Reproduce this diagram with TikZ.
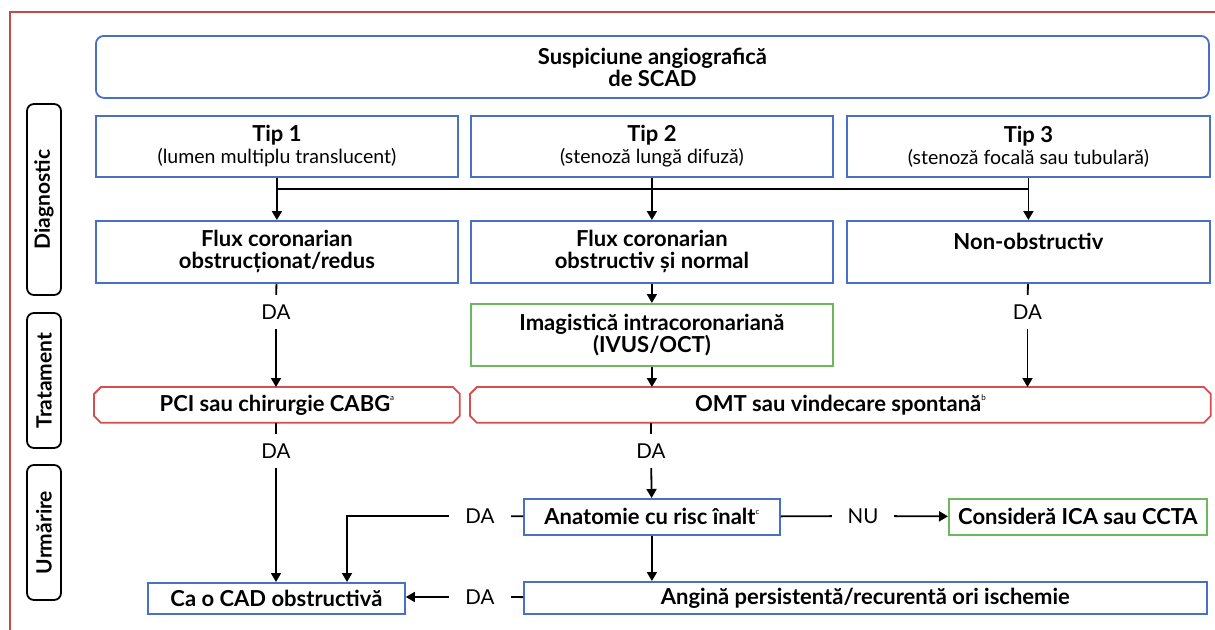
\documentclass[tikz,border=0pt]{standalone}
\usepackage{fontspec}
\setmainfont{Lato}
\usetikzlibrary{calc,arrows.meta}
\definecolor{boxblue}{RGB}{72,112,196}
\definecolor{boxred}{RGB}{214,78,78}
\definecolor{boxgreen}{RGB}{108,184,92}
\definecolor{framered}{RGB}{196,74,74}
\newcommand\supmark[1]{\raisebox{1.1ex}{\fontsize{8}{8}\selectfont\mdseries #1}}
\newcommand\hd[1]{{\fontsize{22}{22}\selectfont\bfseries #1}}
\tikzset{
  base/.style={inner sep=0pt, anchor=north west, align=center,
    font=\fontsize{19.5}{22}\selectfont, line width=1.8pt},
  bluebox/.style={base, draw=boxblue},
  greenbox/.style={base, draw=boxgreen},
  redbox/.style={base, draw=none},
  sidelbl/.style={draw=black, line width=1.8pt, rounded corners=7pt, inner sep=0pt,
    minimum height=34pt, rotate=90, font=\fontsize{21}{21}\selectfont\bfseries},
  lbl/.style={inner sep=0pt, minimum width=62pt, minimum height=34pt,
    font=\fontsize{20.5}{20.5}\selectfont},
  conn/.style={draw=black, line width=1.8pt},
  arr/.style={conn, -{Triangle[length=9pt,width=10pt]}},
}
% octagonal outline for the treatment boxes
\newcommand\chamfer[1]{%
  \draw[boxred, line width=1.8pt]
    ($(#1.north west)+(7,0)$) -- ($(#1.north east)+(-7,0)$) --
    ($(#1.north east)+(0,7)$) -- ($(#1.south east)+(0,-7)$) --
    ($(#1.south east)+(-7,0)$) -- ($(#1.south west)+(7,0)$) --
    ($(#1.south west)+(0,-7)$) -- ($(#1.north west)+(0,7)$) -- cycle;}
\begin{document}
\begin{tikzpicture}[x=1pt,y=-1pt]
\clip (0,0) rectangle (1215,629);
\fill[white] (0,0) rectangle (1215,629);
\draw[framered, line width=2pt] (10,12) rectangle (1235,650);

% phase labels
\node[sidelbl, minimum width=191pt] (diag) at (44,199.5) {Diagnostic};
\node[sidelbl, minimum width=135pt] (trat) at (44,380.5) {Tratament};
\node[sidelbl, minimum width=135pt] (urm) at (44,532.5) {Urmărire};

% diagnosis
\node[bluebox, rounded corners=8pt, minimum width=1113pt, minimum height=62pt] (top) at (95,35)
  {\hd{Suspiciune angiografică}\\\hd{de SCAD}};
\node[bluebox, minimum width=362pt, minimum height=61pt] (tip1) at (95,115)
  {\hd{Tip 1}\\(lumen multiplu translucent)};
\node[bluebox, minimum width=362pt, minimum height=61pt] (tip2) at (470,115)
  {\hd{Tip 2}\\(stenoză lungă difuză)};
\node[bluebox, minimum width=363pt, minimum height=61pt] (tip3) at (846,115)
  {\hd{Tip 3}\\(stenoză focală sau tubulară)};
\node[bluebox, minimum width=362pt, minimum height=62pt] (flux1) at (95,220)
  {\hd{Flux coronarian}\\\hd{obstrucționat/redus}};
\node[bluebox, minimum width=362pt, minimum height=62pt] (flux2) at (470,220)
  {\hd{Flux coronarian}\\\hd{obstructiv și normal}};
\node[bluebox, minimum width=363pt, minimum height=62pt] (flux3) at (846,220)
  {\hd{Non-obstructiv}\\\mbox{}};

% treatment
\node[greenbox, minimum width=362pt, minimum height=62pt] (imag) at (470,303)
  {\hd{Imagistică intracoronariană}\\\hd{(IVUS/OCT)}};
\node[redbox, minimum width=364pt, minimum height=34pt] (pci) at (94,387)
  {\hd{PCI sau chirurgie CABG}\supmark{a}};
\node[redbox, minimum width=739pt, minimum height=34pt] (omt) at (470,387)
  {\hd{OMT sau vindecare spontană}\supmark{b}};
\chamfer{pci}
\chamfer{omt}

% follow-up
\node[bluebox, minimum width=256pt, minimum height=36pt] (anat) at (523,498)
  {\hd{Anatomie cu risc înalt}\supmark{c}};
\node[greenbox, minimum width=258pt, minimum height=36pt] (cons) at (948,498)
  {\hd{Consideră ICA sau CCTA}};
\node[bluebox, minimum width=683pt, minimum height=32pt] (ang) at (523,581)
  {\hd{Angină persistentă/recurentă ori ischemie}};
\node[bluebox, minimum width=257pt, minimum height=31pt] (cad) at (147,582)
  {\hd{Ca o CAD obstructivă}};

% answer labels
\node[lbl] (da1) at (276,312) {DA};
\node[lbl] (da3) at (1027.5,312) {DA};
\node[lbl] (da4) at (276,451) {DA};
\node[lbl] (da2) at (651,451) {DA};
\node[lbl] (daL) at (480,516) {DA};
\node[lbl] (nu) at (863,516) {NU};
\node[lbl] (daB) at (480,597) {DA};

\coordinate (busL) at (276,189);
\coordinate (busR) at (1027.5,189);
\coordinate (cadjoin) at (347,582);

% connectors
\draw[conn] (busL) -- (busR);
\draw[arr] (tip1) -- (flux1);
\draw[arr] (tip2) -- (flux2);
\draw[arr] (tip3) -- (flux3);
\draw[conn] (flux1) -- (da1);
\draw[arr] (da1) -- (da1 |- pci.north);
\draw[arr] (flux2) -- (imag);
\draw[arr] (imag.south) -- (imag.south |- omt.north);
\draw[conn] (flux3) -- (da3);
\draw[arr] (da3) -- (da3 |- omt.north);
\draw[conn] (da4 |- pci.south) -- (da4);
\draw[arr] (da4) -- (da4 |- cad.north);
\draw[conn] (da2 |- omt.south) -- (da2);
\draw[arr] (da2) -- (anat);
\draw[conn] (anat) -- (daL);
\draw[arr] (daL) -| (cadjoin);
\draw[conn] (anat) -- (nu);
\draw[arr] (nu) -- (cons);
\draw[arr] (anat.south) -- (anat.south |- ang.north);
\draw[conn] (ang) -- (daB);
\draw[arr] (daB) -- (daB -| cad.east);
\end{tikzpicture}
\end{document}
